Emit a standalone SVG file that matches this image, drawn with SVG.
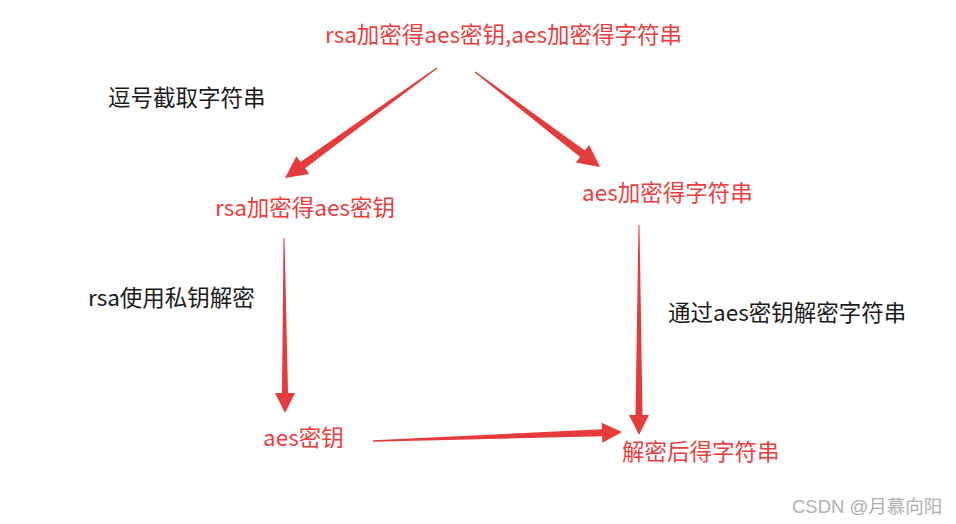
<svg xmlns="http://www.w3.org/2000/svg" width="956" height="524" viewBox="0 0 956 524">
<style>
text{font-family:"Noto Sans CJK SC","Microsoft YaHei",sans-serif;font-size:22.5px}
.r{fill:#ee3d3d}
.k{fill:#1a1a1a}
.wm{fill:#b0b0b0;font-size:18.5px;font-family:"Liberation Sans","Noto Sans CJK SC",sans-serif}
.a{fill:#e63b3b}
</style>
<rect width="956" height="524" fill="#ffffff"/>
<g id="n-top"><text class="r" x="325" y="43">rsa加密得aes密钥,aes加密得字符串</text></g>
<g id="n-rsakey"><text class="r" x="215" y="216">rsa加密得aes密钥</text></g>
<g id="n-aesstr"><text class="r" x="582" y="201">aes加密得字符串</text></g>
<g id="n-aeskey"><text class="r" x="263" y="446">aes密钥</text></g>
<g id="n-result"><text class="r" x="622" y="460">解密后得字符串</text></g>
<g id="labels">
<text class="k" x="108" y="106">逗号截取字符串</text>
<text class="k" x="88" y="306">rsa使用私钥解密</text>
<text class="k" x="668" y="321">通过aes密钥解密字符串</text>
</g>
<g id="connectors">
<polygon class="a" points="437.4,68.5 305.1,168.3 309.2,174 285,178 296.4,156.2 300.5,161.9 436.6,67.5"/>
<polygon class="a" points="474.6,72.5 580.1,156.9 575.8,162.5 600,167 589.2,144.9 584.9,150.5 475.4,71.5"/>
<polygon class="a" points="283.5,238 284.5,238 288,393 295,393 285,413 275,393 282,393"/>
<polygon class="a" points="638.5,225 639.5,225 642.5,415 649,415 639,435 629,415 635.5,415"/>
<polygon class="a" points="373,441.7 602.1,436.2 602.4,442.7 622,432 601.6,422.7 601.9,429.2 373,440.3"/>
</g>
<text class="wm" x="792" y="513">CSDN @月慕向阳</text>
</svg>
